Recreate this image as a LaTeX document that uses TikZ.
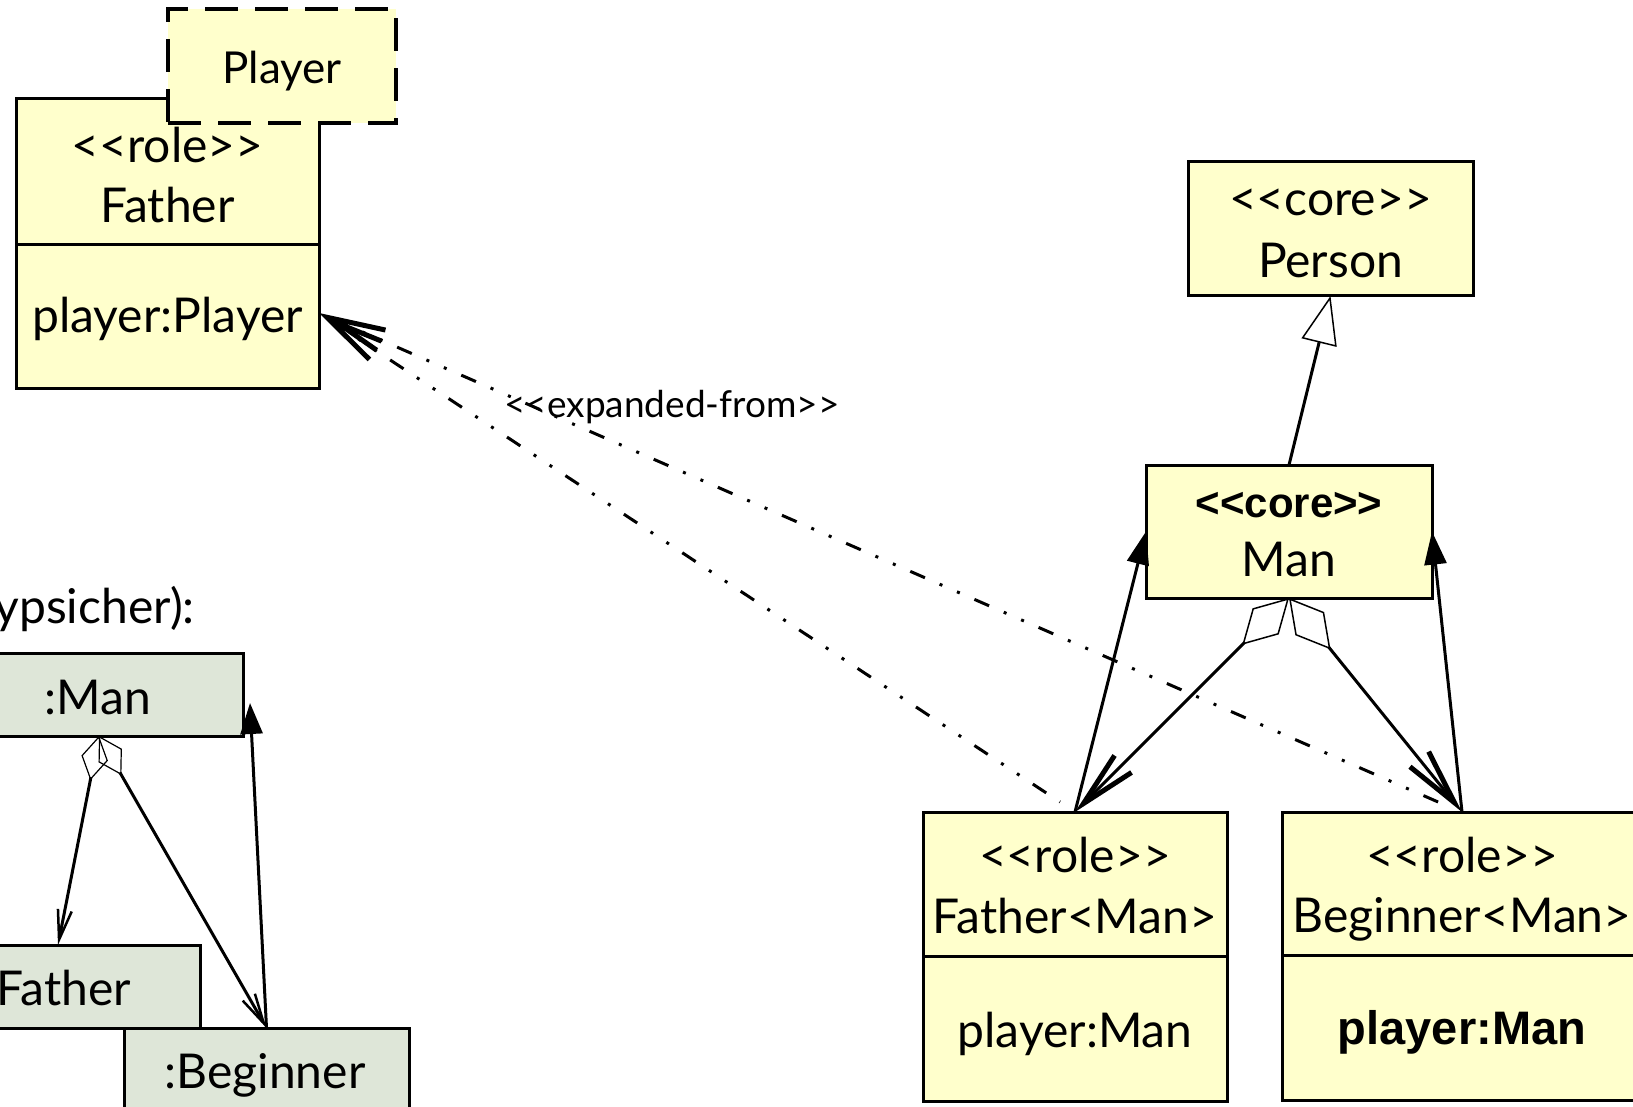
\documentclass[tikz,border=0pt]{standalone}
\usepackage{fontspec}
\setmainfont{Lato}
\newfontfamily\libsans{Liberation Sans}
\usetikzlibrary{arrows.meta,calc}
\definecolor{clsfill}{HTML}{FFFFCC}
\definecolor{objfill}{HTML}{DEE6D8}
\newcommand\dlt{<\kern0pt<}
\newcommand\dgt{>\kern0pt>}
\begin{document}
\begin{tikzpicture}[x=1pt,y=-1pt,
 cls/.style={draw=black,line width=3pt,fill=clsfill,inner sep=0pt,outer sep=0pt},
 obj/.style={draw=black,line width=3pt,fill=objfill,inner sep=0pt,outer sep=0pt},
 txt/.style={inner sep=0pt,anchor=base,font=\fontsize{48}{58}\selectfont},
 btxt/.style={inner sep=0pt,anchor=base,font=\fontsize{42}{50}\selectfont\libsans\bfseries},
 conn/.style={line width=3pt},
 tri/.style={-{Triangle[length=33pt,width=22pt]}},
 gen/.style={-{Triangle[open,length=48pt,width=36pt,line width'=1.5pt]}},
 agg/.style={{Diamond[open,length=66pt,width=37pt,line width'=1.5pt]}-{Straight Barb[length=56pt,width=24pt,line width'=5pt]}},
 smallagg/.style={{Diamond[open,length=45pt,width=27pt,line width'=1.2pt]}-{Straight Barb[length=30pt,width=14pt,line width'=2.5pt]}},
 dep/.style={line width=3pt,dash pattern=on 16pt off 16pt on 3pt off 16pt on 3pt off 16pt,{Straight Barb[length=55pt,width=22pt,line width'=5pt]}-},
]
\useasboundingbox (0,0) rectangle (1633,1107);
\clip (0,0) rectangle (1633,1107);

% role Father
\node[cls,minimum width=303pt,minimum height=146pt] (frH) at (167.5,172) {};
\node[cls,minimum width=303pt,minimum height=143pt] (frB) at (167.5,316.5) {};
\node[cls,line width=3.5pt,dash pattern=on 33pt off 17pt,minimum width=228pt,minimum height=114pt] (pl) at (282,66) {};
\node[txt,font=\fontsize{44}{52}\selectfont] (tpl) at (282,84) {Player};
\node[txt] (tfr1) at (167.5,163) {\dlt role\dgt};
\node[txt] (tfr2) at (167.5,223) {Father};
\node[txt] (tfr3) at (167.5,333) {player:Player};

% Person and Man
\node[cls,minimum width=285pt,minimum height=134pt] (person) at (1330.5,229) {};
\node[txt] (tpe1) at (1330.5,216) {\dlt core\dgt};
\node[txt] (tpe2) at (1330.5,278) {Person};
\node[cls,minimum width=286pt,minimum height=133pt] (man) at (1289,531.5) {};
\node[btxt] (tma1) at (1289,517) {\dlt core\dgt};
\node[txt] (tma2) at (1289,576) {Man};

% Father<Man>
\node[cls,minimum width=304pt,minimum height=144pt] (fmH) at (1075,884) {};
\node[cls,minimum width=304pt,minimum height=145pt] (fmB) at (1075,1028.5) {};
\node[txt] (tfm1) at (1075,872) {\dlt role\dgt};
\node[txt] (tfm2) at (1075,933) {Father<Man>};
\node[txt] (tfm3) at (1075,1047) {player:Man};

% Beginner<Man>
\node[cls,minimum width=360pt,minimum height=143pt] (bmH) at (1462,883.5) {};
\node[cls,minimum width=360pt,minimum height=145pt] (bmB) at (1462,1027.5) {};
\node[txt] (tbm1) at (1462,872) {\dlt role\dgt};
\node[txt] (tbm2) at (1462,932) {Beginner<Man>};
\node[btxt,font=\fontsize{47}{54}\selectfont\libsans\bfseries] (tbm3) at (1462,1044) {player:Man};

% object diagram
\node[txt,anchor=base east] (typ) at (195,623) {ypsicher):};
\node[obj,minimum width=288pt,minimum height=83pt] (om) at (99,694.5) {};
\node[obj,minimum width=284pt,minimum height=83pt] (of) at (58,986.5) {};
\node[obj,minimum width=285pt,minimum height=86pt] (ob) at (266.5,1071) {};
\node[txt] (tom) at (98,714) {:Man};
\node[txt] (tof) at (58,1005) {:Father};
\node[txt] (tob) at (265,1088) {:Beginner};

% label
\node[inner sep=0pt,anchor=base,font=\fontsize{37}{44}\selectfont] (lbl) at (672,417) {\dlt expanded-from\dgt};

% connectors
\draw[conn,gen] (man.north) -- (person.south);
\draw[conn,tri] (fmH.north) -- (man.west);
\draw[conn,tri] (bmH.north) -- (man.east);
\draw[conn,agg] (man.south) -- (fmH.north);
\draw[conn,agg] (man.south) -- (bmH.north);
\draw[dep] ([yshift=3.5pt]frB.east) -- ([shift={(-15,-10)}]fmH.north);
\draw[dep] ([yshift=3.5pt]frB.east) -- ([shift={(-17,-7)}]bmH.north);

\draw[conn,smallagg] (om.south) -- (of.north);
\draw[conn,smallagg] (om.south) -- (ob.north);
\draw[conn,-{Triangle[length=31pt,width=22pt]}] (ob.north) -- ([shift={(7,8.5)}]om.east);
\end{tikzpicture}
\end{document}
